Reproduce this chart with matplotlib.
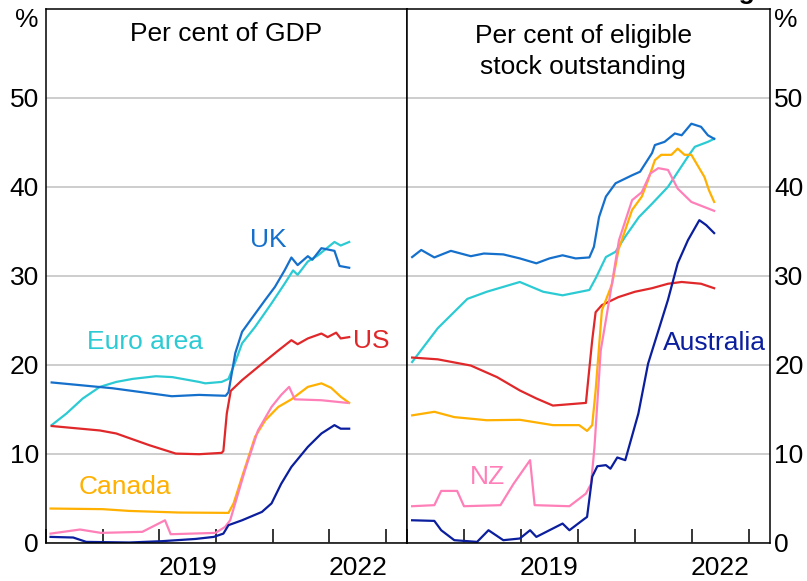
import matplotlib
matplotlib.use("Agg")
import matplotlib.pyplot as plt
import numpy as np

plt.rcParams['font.family'] = ['Liberation Sans', 'DejaVu Sans']
plt.rcParams['font.size'] = 19

## Colours
c_uk = '#1570CC'
c_euro = '#2CCBD4'
c_us = '#E0282A'
c_can = '#FFB000'
c_nz = '#FF80B8'
c_aus = '#0A1E9E'

## Left panel data: per cent of GDP (decimal years)
gdp_uk_x = [2017.1, 2018.17, 2019.22, 2019.7, 2020.17, 2020.22, 2020.34, 2020.46, 2020.63, 2020.87,
            2021.04, 2021.21, 2021.33, 2021.44, 2021.62, 2021.7, 2021.86, 2022.09, 2022.18, 2022.35]
gdp_uk_y = [18.0, 17.35, 16.45, 16.6, 16.5, 16.9, 21.3, 23.7, 25.2, 27.3,
            28.75, 30.6, 32.05, 31.2, 32.2, 31.8, 33.1, 32.8, 31.1, 30.9]

gdp_euro_x = [2017.1, 2017.36, 2017.65, 2017.95, 2018.24, 2018.53, 2018.94, 2019.23, 2019.7, 2019.81,
              2020.1, 2020.22, 2020.34, 2020.46, 2020.69, 2020.98, 2021.21, 2021.36, 2021.44, 2021.62,
              2021.8, 2022.09, 2022.2, 2022.35]
gdp_euro_y = [13.2, 14.5, 16.2, 17.5, 18.06, 18.4, 18.7, 18.6, 18.06, 17.9,
              18.06, 18.4, 20.3, 22.4, 24.25, 26.9, 29.1, 30.6, 30.1, 31.6,
              32.3, 33.8, 33.4, 33.8]

gdp_us_x = [2017.1, 2017.95, 2018.24, 2018.82, 2019.29, 2019.7, 2020.1, 2020.13, 2020.19, 2020.26,
            2020.46, 2020.81, 2021.1, 2021.33, 2021.44, 2021.62, 2021.86, 2021.97, 2022.12, 2022.2, 2022.35]
gdp_us_y = [13.1, 12.6, 12.26, 10.95, 10.0, 9.93, 10.08, 10.3, 14.5, 17.05,
            18.26, 20.1, 21.6, 22.75, 22.3, 22.95, 23.5, 23.1, 23.6, 22.95, 23.1]

gdp_can_x = [2017.08, 2018.0, 2018.47, 2019.35, 2020.22, 2020.31, 2020.46, 2020.69, 2020.87, 2021.1,
             2021.33, 2021.62, 2021.86, 2022.03, 2022.2, 2022.35]
gdp_can_y = [3.82, 3.75, 3.55, 3.37, 3.33, 4.4, 7.4, 11.9, 13.75, 15.25,
             16.1, 17.5, 17.9, 17.4, 16.4, 15.7]

gdp_nz_x = [2017.08, 2017.6, 2017.97, 2018.7, 2019.1, 2019.2, 2019.99, 2020.16, 2020.25, 2020.51,
            2020.74, 2020.98, 2021.15, 2021.29, 2021.39, 2021.86, 2022.32]
gdp_nz_y = [1.0, 1.46, 1.08, 1.2, 2.5, 0.93, 1.08, 1.75, 2.5, 8.1,
            12.6, 15.25, 16.6, 17.5, 16.1, 16.0, 15.7]

gdp_aus_x = [2017.08, 2017.48, 2017.71, 2018.47, 2019.05, 2019.64, 2019.96, 2020.13, 2020.22, 2020.46,
             2020.81, 2020.98, 2021.15, 2021.33, 2021.62, 2021.86, 2022.09, 2022.2, 2022.35]
gdp_aus_y = [0.63, 0.56, 0.07, 0.0, 0.15, 0.4, 0.63, 1.0, 1.95, 2.5,
             3.44, 4.4, 6.6, 8.5, 10.75, 12.26, 13.2, 12.8, 12.8]

## Right panel data: per cent of eligible stock outstanding
stk_uk_x = [2017.09, 2017.25, 2017.48, 2017.77, 2018.12, 2018.35, 2018.69, 2018.98, 2019.27, 2019.5,
            2019.73, 2019.96, 2020.2, 2020.28, 2020.37, 2020.49, 2020.66, 2020.95, 2021.09, 2021.3,
            2021.35, 2021.52, 2021.7, 2021.82, 2021.99, 2022.16, 2022.28, 2022.39]
stk_uk_y = [32.1, 32.9, 32.06, 32.8, 32.2, 32.5, 32.4, 31.95, 31.4, 31.95,
            32.3, 31.95, 32.06, 33.25, 36.6, 38.9, 40.4, 41.3, 41.7, 43.8,
            44.7, 45.06, 46.0, 45.8, 47.1, 46.75, 45.8, 45.4]

stk_euro_x = [2017.09, 2017.54, 2018.06, 2018.4, 2018.98, 2019.39, 2019.73, 2020.2, 2020.31, 2020.49,
              2020.66, 2020.83, 2021.07, 2021.3, 2021.58, 2021.93, 2022.05, 2022.28, 2022.39]
stk_euro_y = [20.3, 24.1, 27.4, 28.2, 29.3, 28.2, 27.8, 28.4, 29.7, 32.1,
              32.7, 34.4, 36.6, 38.1, 40.0, 43.4, 44.5, 45.06, 45.4]

stk_can_x = [2017.09, 2017.48, 2017.83, 2018.4, 2018.98, 2019.56, 2020.02, 2020.16, 2020.25, 2020.31,
             2020.42, 2020.6, 2020.71, 2020.95, 2021.12, 2021.23, 2021.35, 2021.46, 2021.64, 2021.75,
             2021.87, 2021.99, 2022.22, 2022.3, 2022.39]
stk_can_y = [14.3, 14.7, 14.1, 13.75, 13.8, 13.2, 13.2, 12.55, 13.2, 17.1,
             26.1, 29.1, 32.9, 37.4, 38.9, 40.75, 43.0, 43.6, 43.6, 44.3,
             43.6, 43.6, 41.1, 39.6, 38.3]

stk_nz_x = [2017.09, 2017.48, 2017.6, 2017.88, 2018.0, 2018.64, 2018.87, 2019.16, 2019.24, 2019.85,
            2020.14, 2020.23, 2020.29, 2020.4, 2020.55, 2020.72, 2020.95, 2021.12, 2021.27, 2021.41,
            2021.58, 2021.75, 2021.99, 2022.39]
stk_nz_y = [4.08, 4.2, 5.8, 5.8, 4.08, 4.2, 6.6, 9.26, 4.2, 4.08,
            5.5, 6.6, 10.75, 21.6, 27.3, 34.0, 38.5, 39.4, 41.5, 42.1,
            41.9, 39.8, 38.3, 37.3]

stk_us_x = [2017.09, 2017.54, 2018.12, 2018.58, 2018.98, 2019.27, 2019.56, 2019.85, 2020.14, 2020.18,
            2020.25, 2020.31, 2020.42, 2020.71, 2021.0, 2021.3, 2021.58, 2021.82, 2022.16, 2022.39]
stk_us_y = [20.8, 20.6, 19.9, 18.6, 17.1, 16.2, 15.4, 15.55, 15.7, 18.3,
            22.75, 25.9, 26.7, 27.6, 28.2, 28.6, 29.1, 29.3, 29.1, 28.6]

stk_aus_x = [2017.09, 2017.48, 2017.6, 2017.83, 2018.23, 2018.43, 2018.69, 2018.98, 2019.16, 2019.27,
             2019.73, 2019.85, 2020.08, 2020.16, 2020.25, 2020.34, 2020.49, 2020.57, 2020.69, 2020.83,
             2021.06, 2021.23, 2021.58, 2021.75, 2021.93, 2022.13, 2022.25, 2022.39]
stk_aus_y = [2.5, 2.43, 1.38, 0.26, 0.07, 1.38, 0.26, 0.45, 1.38, 0.63,
             2.13, 1.38, 2.5, 2.88, 7.4, 8.58, 8.7, 8.3, 9.56, 9.26,
             14.5, 20.1, 27.3, 31.4, 34.0, 36.25, 35.7, 34.8]

year_ticks = [2017, 2018, 2019, 2020, 2021, 2022, 2023]
year_labels = ['2019', '2022']
yticks = [0, 10, 20, 30, 40, 50]

## Figure
W, H = 807, 581
fig = plt.figure(figsize=(W / 100, H / 100), dpi=100)
top, bot = 1 - 9 / H, 1 - 542.5 / H
axL = fig.add_axes([46 / W, bot, (407 - 46) / W, top - bot])
axR = fig.add_axes([407 / W, bot, (770 - 407) / W, top - bot])

lw = 1.6
axL.plot(gdp_euro_x, gdp_euro_y, color=c_euro, lw=lw)
axL.plot(gdp_uk_x, gdp_uk_y, color=c_uk, lw=lw)
axL.plot(gdp_us_x, gdp_us_y, color=c_us, lw=lw)
axL.plot(gdp_can_x, gdp_can_y, color=c_can, lw=lw)
axL.plot(gdp_nz_x, gdp_nz_y, color=c_nz, lw=lw)
axL.plot(gdp_aus_x, gdp_aus_y, color=c_aus, lw=lw)

axR.plot(stk_euro_x, stk_euro_y, color=c_euro, lw=lw)
axR.plot(stk_uk_x, stk_uk_y, color=c_uk, lw=lw)
axR.plot(stk_us_x, stk_us_y, color=c_us, lw=lw)
axR.plot(stk_can_x, stk_can_y, color=c_can, lw=lw)
axR.plot(stk_nz_x, stk_nz_y, color=c_nz, lw=lw)
axR.plot(stk_aus_x, stk_aus_y, color=c_aus, lw=lw)

for ax, x0 in ((axL, 2017.0), (axR, 2017.08)):
    ax.set_xlim(x0, 2023.37)
    ax.set_ylim(0, 60)
    ax.set_yticks(yticks)
    ax.grid(axis='y', color='#C0C0C0', lw=1.1)
    ax.set_axisbelow(True)
    ax.set_xticks(year_ticks)
    ax.set_xticklabels([])
    ax.set_xticks([2019.5, 2022.5], minor=True)
    ax.set_xticklabels(year_labels, minor=True)
    ax.tick_params(axis='x', which='major', direction='in', length=10, width=1.1, color='black')
    ax.tick_params(axis='x', which='minor', length=0, pad=10)
    ax.tick_params(axis='y', length=0)
    for s in ax.spines.values():
        s.set_linewidth(1.1)
        s.set_color('black')

axL.tick_params(axis='y', pad=5)
axR.yaxis.tick_right()
axR.tick_params(axis='y', pad=3)

axL.text(-0.022, 0.979, '%', transform=axL.transAxes, ha='right', va='center')
axR.text(1.012, 0.979, '%', transform=axR.transAxes, ha='left', va='center')

axL.text(0.5, 0.953, 'Per cent of GDP', transform=axL.transAxes, ha='center', va='center')
axR.text(0.485, 0.92, 'Per cent of eligible\nstock outstanding', transform=axR.transAxes,
         ha='center', va='center', linespacing=1.35)

## Series labels
axL.text(2020.93, 34.0, 'UK', color=c_uk, ha='center', va='center')
axL.text(2018.74, 22.5, 'Euro area', color=c_euro, ha='center', va='center')
axL.text(2022.74, 22.7, 'US', color=c_us, ha='center', va='center')
axL.text(2018.4, 6.2, 'Canada', color=c_can, ha='center', va='center')
axR.text(2018.42, 7.35, 'NZ', color=c_nz, ha='center', va='center')
axR.text(2022.4, 22.4, 'Australia', color=c_aus, ha='center', va='center')

## Cut-off chart title at the top edge
fig.text(755 / W, 1 + 1.5 / H, 'Purchasing', ha='right', va='baseline',
         fontsize=19, fontweight='bold')

fig.savefig('out.png', dpi=100)
